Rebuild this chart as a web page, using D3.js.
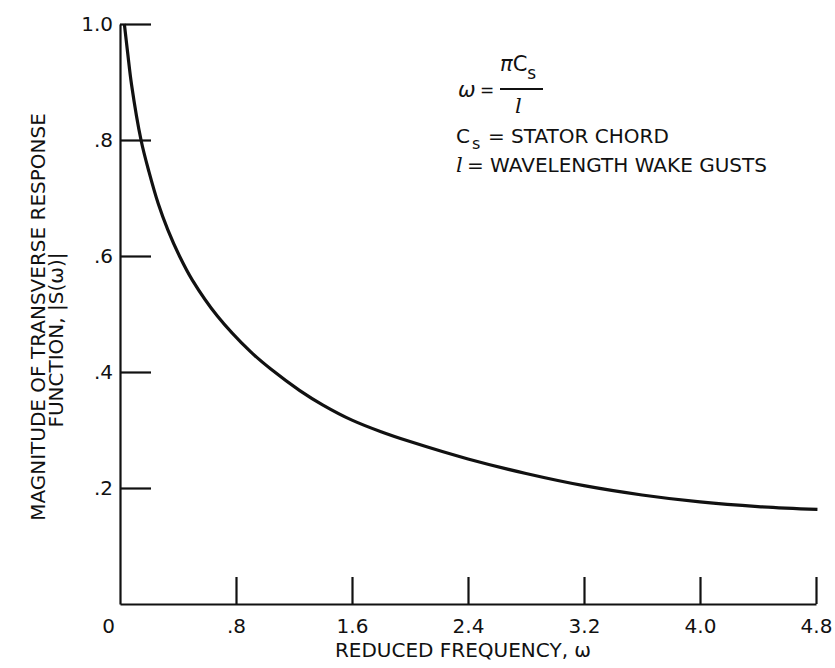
<!DOCTYPE html>
<html>
<head>
<meta charset="utf-8">
<script src="https://cdn.jsdelivr.net/npm/d3@7"></script>
<style>
  body { margin: 0; background: #fff; }
  svg text { font-family: "DejaVu Sans", sans-serif; fill: #111; }
</style>
</head>
<body>
<svg id="chart" width="835" height="668"></svg>
<script>
// reduced frequency vs |S(w)|
var omega = [0.03, 0.053, 0.08, 0.145, 0.2, 0.264, 0.33, 0.41, 0.5, 0.67, 0.9, 1.04,
             1.24, 1.4, 1.6, 1.8, 2.0, 2.4, 2.8, 3.2, 3.6, 4.0, 4.4, 4.81];
var response = [1.0, 0.95, 0.895, 0.80, 0.745, 0.69, 0.645, 0.60, 0.558, 0.497, 0.435, 0.405,
                0.368, 0.343, 0.317, 0.297, 0.280, 0.250, 0.225, 0.204, 0.188, 0.176, 0.168, 0.163];
var xTicks = [0, 0.8, 1.6, 2.4, 3.2, 4.0, 4.8];
var xTickLabels = ['0', '.8', '1.6', '2.4', '3.2', '4.0', '4.8'];
var yTicks = [0.2, 0.4, 0.6, 0.8, 1.0];
var yTickLabels = ['.2', '.4', '.6', '.8', '1.0'];

var svg = d3.select('#chart'),
    margin = {left: 120, top: 24, right: 19, bottom: 64},
    width = 835 - margin.left - margin.right,
    height = 668 - margin.top - margin.bottom;

var x = d3.scaleLinear().domain([0, 4.8]).range([0, width]);
var y = d3.scaleLinear().domain([0, 1]).range([height, 0]);

var g = svg.append('g').attr('transform', 'translate(' + margin.left + ',' + margin.top + ')');

// x axis, ticks pointing up into the plot
var xAxis = g.append('g')
    .attr('transform', 'translate(0,' + height + ')')
    .call(d3.axisBottom(x)
        .tickValues(xTicks)
        .tickFormat(function(d, i) { return xTickLabels[i]; })
        .tickSize(-27)
        .tickSizeOuter(0)
        .tickPadding(15));

// y axis, ticks pointing right
var yAxis = g.append('g')
    .call(d3.axisLeft(y)
        .tickValues(yTicks)
        .tickFormat(function(d, i) { return yTickLabels[i]; })
        .tickSize(-31)
        .tickSizeOuter(0)
        .tickPadding(7));

[xAxis, yAxis].forEach(function(a) {
    a.select('.domain').attr('stroke', '#111').attr('stroke-width', 2.2);
    a.selectAll('.tick line').attr('stroke', '#111').attr('stroke-width', 2.2);
    a.selectAll('.tick text').attr('font-size', 20).attr('fill', '#111')
        .style('font-family', '"DejaVu Sans", sans-serif');
});
// the zero label sits left of the corner
xAxis.selectAll('.tick').filter(function(d) { return d === 0; })
    .select('line').remove();
xAxis.selectAll('.tick').filter(function(d) { return d === 0; })
    .select('text').attr('dx', -12);

// curve
var line = d3.line()
    .x(function(d, i) { return x(omega[i]); })
    .y(function(d) { return y(d); })
    .curve(d3.curveCatmullRom);

g.append('path')
    .datum(response)
    .attr('fill', 'none')
    .attr('stroke', '#111')
    .attr('stroke-width', 3.2)
    .attr('d', line);

// axis titles
svg.append('text')
    .attr('x', 463).attr('y', 657)
    .attr('text-anchor', 'middle')
    .attr('font-size', 20)
    .text('REDUCED FREQUENCY, ω');

svg.append('text')
    .attr('transform', 'translate(45,317) rotate(-90)')
    .attr('text-anchor', 'middle')
    .attr('font-size', 20)
    .text('MAGNITUDE OF TRANSVERSE RESPONSE');

svg.append('text')
    .attr('transform', 'translate(63,340) rotate(-90)')
    .attr('text-anchor', 'middle')
    .attr('font-size', 20)
    .text('FUNCTION, |S(ω)|');

// definition note
var note = svg.append('g');
note.append('text').attr('x', 458).attr('y', 97).attr('font-size', 21)
    .attr('font-style', 'italic').text('ω');
note.append('text').attr('x', 480).attr('y', 96).attr('font-size', 17).text('=');
var num = note.append('text').attr('x', 500).attr('y', 71).attr('font-size', 21);
num.append('tspan').attr('font-style', 'italic').text('π');
num.append('tspan').text('C');
num.append('tspan').attr('dy', 8).attr('font-size', 17).text('s');
note.append('line').attr('x1', 500).attr('x2', 543).attr('y1', 89).attr('y2', 89)
    .attr('stroke', '#111').attr('stroke-width', 2);
note.append('text').attr('x', 515).attr('y', 113).attr('font-size', 21)
    .style('font-family', '"DejaVu Serif", serif')
    .attr('font-style', 'italic').text('l');

var cs = note.append('text').attr('x', 456).attr('y', 143).attr('font-size', 20);
cs.append('tspan').text('C');
cs.append('tspan').attr('dx', 2).attr('dy', 6).attr('font-size', 16).text('s');
cs.append('tspan').attr('x', 488).attr('dy', -6).text('= STATOR CHORD');

note.append('text').attr('x', 456).attr('y', 172).attr('font-size', 21)
    .style('font-family', '"DejaVu Serif", serif')
    .attr('font-style', 'italic').text('l');
note.append('text').attr('x', 467).attr('y', 172).attr('font-size', 20).text('= WAVELENGTH WAKE GUSTS');
</script>
</body>
</html>
